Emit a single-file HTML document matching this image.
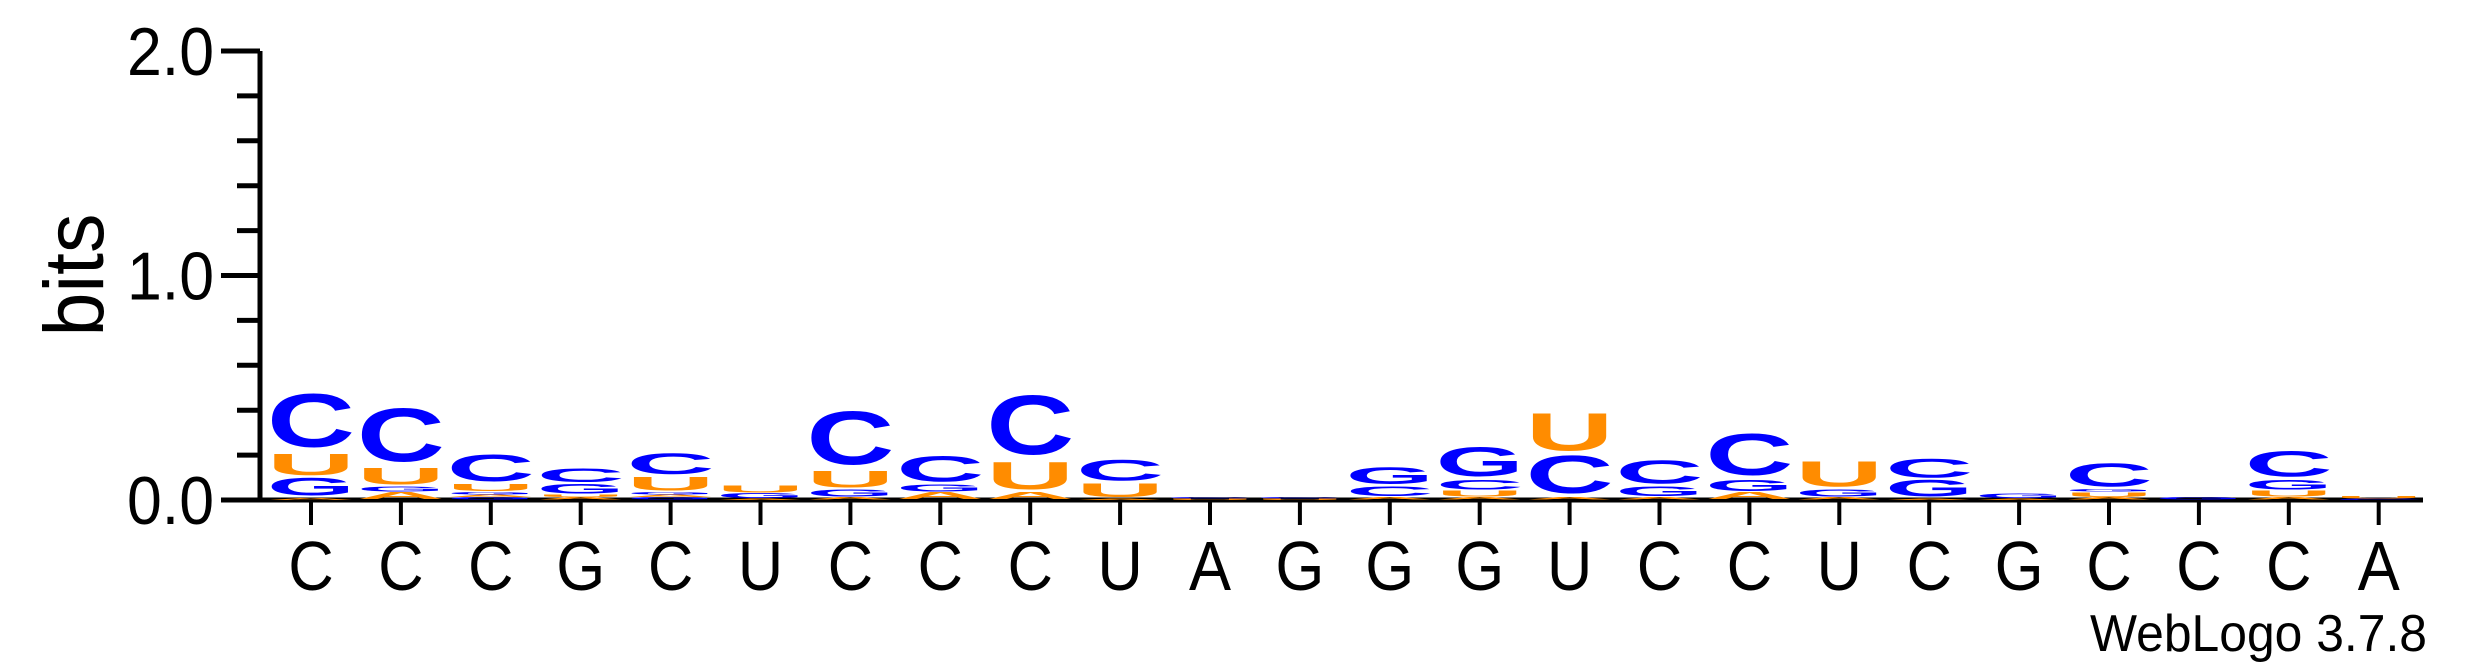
<!DOCTYPE html>
<html><head><meta charset="utf-8"><style>
html,body{margin:0;padding:0;background:#fff;}
svg{display:block;}
text{font-family:"Liberation Sans",sans-serif;}
</style></head><body>
<svg id="logo" width="2475" height="667" viewBox="0 0 2475 667" xmlns="http://www.w3.org/2000/svg">
<g id="axes"></g>
<g id="stacks"></g>
<text transform="translate(103,275) rotate(-90)" text-anchor="middle" font-size="84" textLength="123" lengthAdjust="spacingAndGlyphs">bits</text>
<text x="2427" y="651" text-anchor="end" font-size="52" textLength="337" lengthAdjust="spacingAndGlyphs">WebLogo 3.7.8</text>
</svg>
<script>
const consensus = ["C","C","C","G","C","U","C","C","C","U","A","G","G","G","U","C","C","U","C","G","C","C","C","A"];
// stacks bottom-to-top: [letter, bits]
const stackData = [
 [["A",0.01],["G",0.09],["U",0.11],["C",0.27]],
 [["A",0.035],["G",0.025],["U",0.085],["C",0.27]],
 [["G",0.012],["A",0.012],["G",0.012],["U",0.035],["C",0.135]],
 [["A",0.012],["U",0.012],["G",0.05],["C",0.07]],
 [["G",0.012],["A",0.012],["G",0.012],["U",0.07],["C",0.105]],
 [["A",0.006],["G",0.025],["U",0.035]],
 [["A",0.012],["G",0.035],["U",0.085],["C",0.27]],
 [["A",0.035],["G",0.035],["C",0.13]],
 [["A",0.035],["U",0.14],["C",0.3]],
 [["A",0.006],["U",0.07],["C",0.105]],
 [["U",0.006],["C",0.006]],
 [["U",0.006],["C",0.006]],
 [["A",0.012],["C",0.05],["G",0.085]],
 [["A",0.012],["U",0.03],["C",0.05],["G",0.15]],
 [["A",0.012],["C",0.19],["U",0.19]],
 [["A",0.012],["G",0.05],["C",0.12]],
 [["A",0.035],["G",0.055],["C",0.21]],
 [["A",0.012],["G",0.035],["U",0.13]],
 [["A",0.006],["G",0.085],["C",0.095]],
 [["A",0.006],["G",0.024]],
 [["A",0.012],["U",0.024],["G",0.012],["C",0.12]],
 [["G",0.012]],
 [["A",0.012],["U",0.03],["G",0.05],["C",0.13]],
 [["C",0.006],["U",0.012]]
];
const yTicks = [0,1,2];
const yTickLabels = ["0.0","1.0","2.0"];

const NS="http://www.w3.org/2000/svg";
const X0=311, DX=89.9, Y0=500, PPB=224.5, AXL=260, AXR=2423;
const colors={A:"#ff8c00",U:"#ff8c00",C:"#0000ff",G:"#0000ff"};
const xPos=i=>X0+i*DX;
const yPos=v=>Y0-v*PPB;
function mk(tag,attrs,parent){const e=document.createElementNS(NS,tag);for(const k in attrs)e.setAttribute(k,attrs[k]);parent.appendChild(e);return e;}
const axes=document.getElementById('axes');
let e=mk('line',{x1:AXL,y1:yPos(2),x2:AXL,y2:Y0+2.5,stroke:"#000","stroke-width":5},axes);


e=mk('line',{x1:AXL-2.5,y1:Y0,x2:AXR,y2:Y0,stroke:"#000","stroke-width":5},axes);


for(let k=0;k<=10;k++){
  const v=k*0.2, major=(k%5===0);
  e=mk('line',{x1:major?221:237,y1:yPos(v),x2:AXL,y2:yPos(v),stroke:"#000","stroke-width":5},axes);
  
  
}
yTicks.forEach((v,i)=>{
  e=mk('text',{x:214,y:yPos(v)+24,"text-anchor":"end","font-size":68,textLength:87,lengthAdjust:"spacingAndGlyphs"},axes);
  e.textContent=yTickLabels[i];
  
  
});
consensus.forEach((c,i)=>{
  e=mk('line',{x1:xPos(i),y1:Y0,x2:xPos(i),y2:525,stroke:"#000","stroke-width":4},axes);
  
  
  e=mk('text',{x:0,y:0,"text-anchor":"middle","font-size":70,transform:`translate(${xPos(i)},590) scale(0.9,1)`},axes);
  e.textContent=c;
  
  
});
const stacks=document.getElementById('stacks');
const W=88;
stackData.forEach((st,i)=>{
  let base=0;
  st.forEach(([L,b])=>{
    const slot=b*PPB;
    const h=slot*0.9;
    const yb=yPos(base)-slot*0.1;
    const t=mk('text',{x:0,y:0,"font-size":100,"font-weight":"bold",fill:colors[L],textLength:W,lengthAdjust:"spacingAndGlyphs",
      transform:`translate(${xPos(i)-W/2},${yb}) scale(1,${h/72})`},stacks);
    t.textContent=L;
    
    
    base+=b;
  });
});
</script>
</body></html>
